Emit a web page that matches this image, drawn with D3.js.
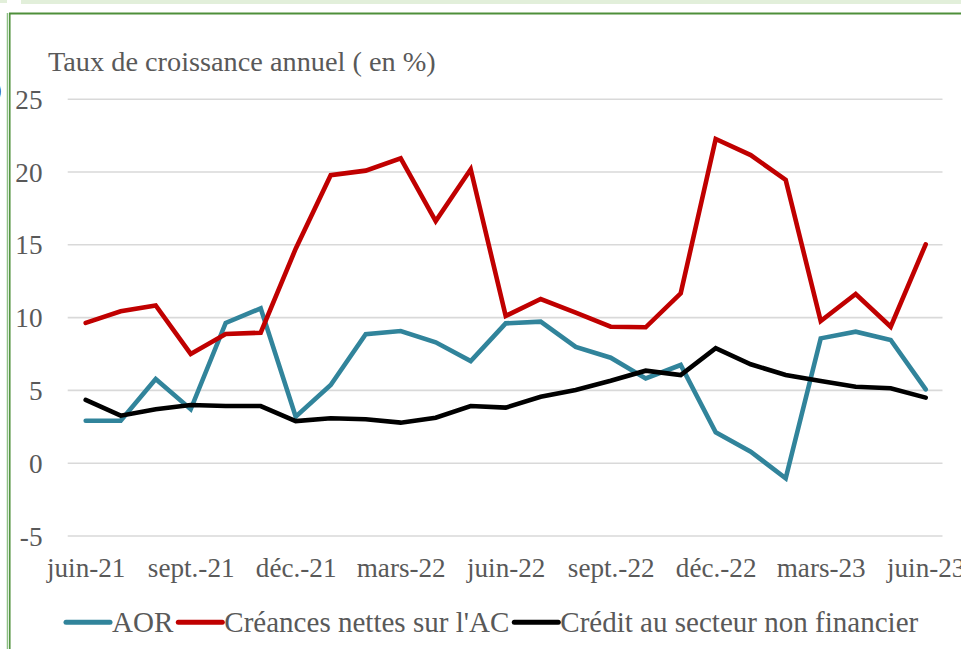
<!DOCTYPE html>
<html><head><meta charset="utf-8">
<script src="https://cdn.jsdelivr.net/npm/d3@7"></script>
<style>
html,body{margin:0;padding:0;background:#fff;overflow:hidden;}
</style></head>
<body>
<svg id="chart" width="961" height="649"></svg>
<script>
const months = ["juin-21","juil.-21","août-21","sept.-21","oct.-21","nov.-21","déc.-21","janv.-22","févr.-22","mars-22","avr.-22","mai-22","juin-22","juil.-22","août-22","sept.-22","oct.-22","nov.-22","déc.-22","janv.-23","févr.-23","mars-23","avr.-23","mai-23","juin-23"];
const tickMonths = ["juin-21","sept.-21","déc.-21","mars-22","juin-22","sept.-22","déc.-22","mars-23","juin-23"];
const aor = [2.88,2.88,5.75,3.67,9.6,10.6,3.16,5.34,8.83,9.04,8.27,6.98,9.57,9.69,7.95,7.21,5.79,6.71,2.09,0.76,-1.07,8.54,9.0,8.43,5.04];
const creances = [9.6,10.4,10.8,7.47,8.84,8.93,14.7,19.75,20.06,20.9,16.6,20.15,10.08,11.24,10.3,9.34,9.3,11.63,22.23,21.13,19.42,9.73,11.59,9.34,15.0];
const credit = [4.31,3.23,3.67,3.96,3.89,3.89,2.86,3.05,2.98,2.75,3.09,3.89,3.78,4.53,5.0,5.63,6.32,6.02,7.86,6.76,6.02,5.61,5.22,5.11,4.47];
const yTicks = [-5,0,5,10,15,20,25];
const seriesNames = ["AOR","Créances nettes sur l'AC","Crédit au secteur non financier"];
const seriesColors = ["#31849B","#C00000","#000000"];
const titleText = "Taux de croissance annuel ( en %)";

const svg = d3.select("#chart");

// pick an installed serif face if any
function pickFont(){
  const cands = ["Liberation Serif","DejaVu Serif","Noto Serif","FreeSerif","Times New Roman","Tinos","Georgia","Nimbus Roman","Noto Serif CJK SC"];
  const probe = svg.append("text").style("font-size","40px").text("Taux de croissance mmmWWiil 0123");
  probe.style("font-family","monospace");
  const base = probe.node().getComputedTextLength();
  let found = null;
  for (const c of cands){
    probe.style("font-family", `'${c}', monospace`);
    if (Math.abs(probe.node().getComputedTextLength() - base) > 0.5){ found = c; break; }
  }
  probe.remove();
  return found ? `'${found}', serif` : "'Liberation Sans', sans-serif";
}
const FONT = pickFont();
svg.style("font-family", FONT);
const textColor = "#595959";

function fit(sel, target, size){
  sel.style("font-size", size+"px");
  const w = sel.node().getComputedTextLength();
  const s = size*target/w;
  sel.style("font-size", s+"px");
  return s;
}

// frame decorations
svg.append("rect").attr("x",0).attr("y",0).attr("width",7).attr("height",3).attr("fill","#E2EFDA");
svg.append("rect").attr("x",21).attr("y",0).attr("width",940).attr("height",4).attr("fill","#E2EFDA");
svg.append("line").attr("x1",9).attr("x2",961).attr("y1",13.5).attr("y2",13.5).attr("stroke","#4E8F3A").attr("stroke-width",2);
svg.append("line").attr("x1",7.5).attr("x2",7.5).attr("y1",13).attr("y2",649).attr("stroke","#8CC084").attr("stroke-width",1.5);
svg.append("line").attr("x1",9.8).attr("x2",9.8).attr("y1",13).attr("y2",649).attr("stroke","#4E8F3A").attr("stroke-width",1.5);
svg.append("text").attr("x",-11).attr("y",100).style("font-size","25px").style("font-family",FONT).attr("fill","#222").text("0");

const x = d3.scalePoint().domain(months).range([85.7, 925.7]);
const y = d3.scaleLinear().domain([-5,25]).range([535.5, 98.7]);

// gridlines
const grid = d3.axisLeft(y).tickValues(yTicks).tickSize(-(942.5-67.7)).tickFormat("");
svg.append("g").attr("transform","translate(67.7,0)").call(grid)
  .call(g=>g.select(".domain").remove())
  .call(g=>g.selectAll("line").attr("stroke","#D9D9D9").attr("stroke-width",1.6));

// title (fit width to reference)
const title = svg.append("text").attr("x",48).attr("y",71).style("font-family",FONT).attr("fill",textColor).text(titleText);
const baseSize = fit(title, 388, 28);

// y labels
const yAxis = d3.axisLeft(y).tickValues(yTicks).tickSize(0).tickPadding(0).tickFormat(d=>String(d));
svg.append("g").attr("transform","translate(42.5,0)").call(yAxis)
  .attr("font-family",null).attr("font-size",null)
  .call(g=>g.select(".domain").remove())
  .call(g=>g.selectAll("text").style("font-size",(baseSize*0.96)+"px").style("font-family",FONT).attr("fill",textColor).attr("dy","0.35em"));

// x labels
const xAxis = d3.axisBottom(x).tickValues(tickMonths).tickSize(0).tickPadding(0);
const xg = svg.append("g").attr("transform","translate(0,577)").call(xAxis)
  .attr("font-family",null).attr("font-size",null)
  .call(g=>g.select(".domain").remove())
  .call(g=>g.selectAll("text").style("font-family",FONT).attr("fill",textColor).attr("dy","0"));
const marsLabel = xg.selectAll("text").filter(d=>d==="mars-22");
const xSize = fit(marsLabel, 89, baseSize);
xg.selectAll("text").style("font-size", xSize+"px");

// lines
const line = d3.line().x((d,i)=>x(months[i])).y(d=>y(d));
[aor,creances,credit].forEach((s,k)=>{
  svg.append("path").datum(s).attr("d",line).attr("fill","none")
    .attr("stroke",seriesColors[k]).attr("stroke-width",4.6)
    .attr("stroke-linejoin","miter").attr("stroke-linecap","round");
});

// legend: measure, then scale font so the whole legend spans the reference width
const legY = 622.3, symW = 44, gap1 = 2, gap2 = 5, span = 852;
const lg = svg.append("g");
const texts = seriesNames.map(n => lg.append("text").style("font-family",FONT).style("font-size",baseSize+"px").attr("fill",textColor).text(n));
let tw = d3.sum(texts, t=>t.node().getComputedTextLength());
const fixed = 3*symW + 3*gap1 + 2*gap2;
const legSize = baseSize*(span-fixed)/tw;
texts.forEach(t=>t.style("font-size",legSize+"px"));
let cx = 66;
seriesNames.forEach((n,k)=>{
  lg.append("line").attr("x1",cx).attr("x2",cx+symW).attr("y1",legY).attr("y2",legY)
    .attr("stroke",seriesColors[k]).attr("stroke-width",5).attr("stroke-linecap","round");
  texts[k].attr("x",cx+symW+gap1).attr("y",legY+legSize*0.34);
  cx += symW + gap1 + texts[k].node().getComputedTextLength() + gap2;
});
</script>
</body></html>
